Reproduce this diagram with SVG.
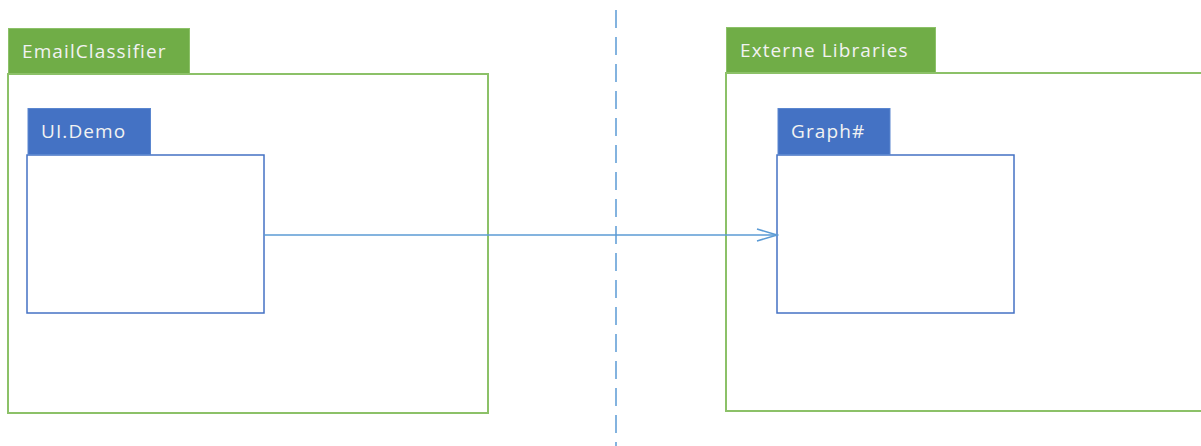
<svg xmlns="http://www.w3.org/2000/svg" width="1201" height="446" viewBox="0 0 1201 446">
<style>
.gtab{fill:#70AD47;stroke:#8CC168;stroke-width:1}
.gbody{fill:#fff;stroke:#8CC168;stroke-width:2}
.btab{fill:#4472C4;stroke:#5A86CF;stroke-width:1}
.bbody{fill:#fff;stroke:#4472C4;stroke-width:1.5}
.lbl{font-family:"Open Sans","Noto Sans",sans-serif;font-size:19px;letter-spacing:1.1px;fill:#F2F2F2}
.conn{stroke:#5B9BD5;stroke-width:1.5;fill:none}
</style>
<defs>
<marker id="open" markerWidth="24" markerHeight="16" refX="22" refY="8" markerUnits="userSpaceOnUse" orient="auto">
<path d="M2,2 L22,8 L2,14" fill="none" stroke="#5B9BD5" stroke-width="1.5"/>
</marker>
</defs>
<rect width="1201" height="446" fill="#fff"/>
<g id="emailclassifier">
<rect class="gbody" x="8" y="74" width="480" height="339"/>
<rect class="gtab" x="8.5" y="28.5" width="181" height="45"/>
<text class="lbl" x="22" y="58">EmailClassifier</text>
</g>
<g id="externe-libraries">
<rect class="gbody" x="726" y="73" width="480" height="338"/>
<rect class="gtab" x="726.5" y="27.5" width="209" height="45"/>
<text class="lbl" x="740" y="57">Externe Libraries</text>
</g>
<g id="ui-demo">
<rect class="bbody" x="27" y="155" width="237" height="158"/>
<rect class="btab" x="28" y="108.5" width="122.5" height="46"/>
<text class="lbl" x="41" y="138">UI.Demo</text>
</g>
<g id="graph">
<rect class="bbody" x="777" y="155" width="237" height="158"/>
<rect class="btab" x="778" y="108.5" width="112" height="46"/>
<text class="lbl" x="791" y="138">Graph#</text>
</g>
<g id="connectors">
<line class="conn" x1="616" y1="10" x2="616" y2="446" stroke-dasharray="18 9"/>
<line class="conn" x1="264" y1="235" x2="777" y2="235" marker-end="url(#open)"/>
</g>
</svg>
